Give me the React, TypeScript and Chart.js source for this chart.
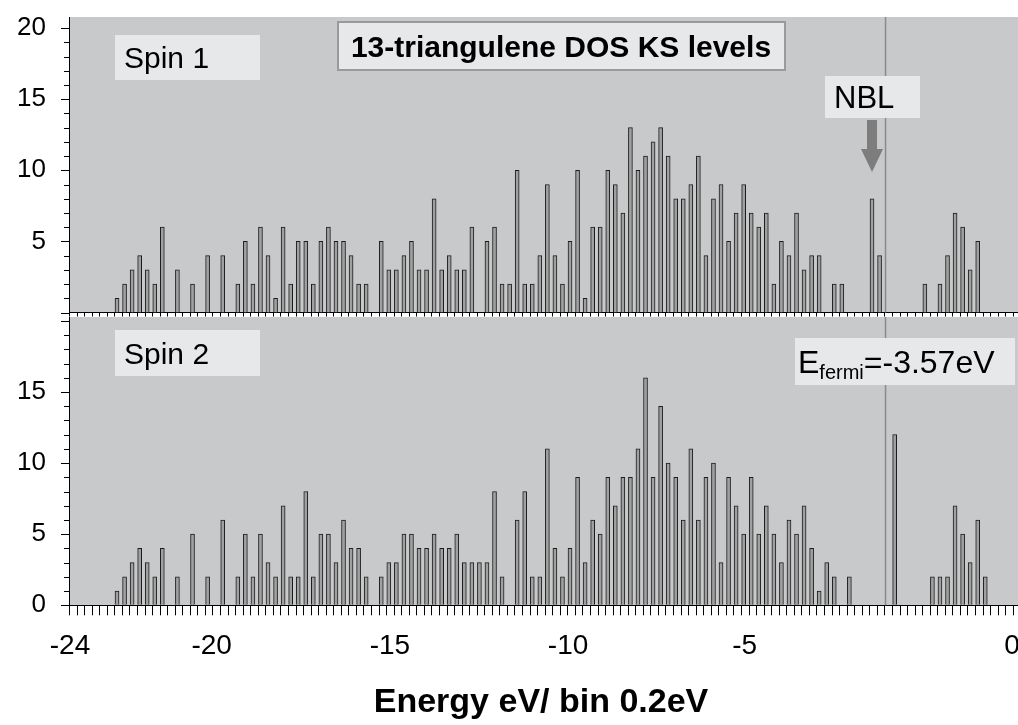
import React, { useEffect, useRef } from "react";
import { Chart, registerables } from "chart.js";

Chart.register(...registerables);

// ---- data (histogram of Kohn-Sham levels, bin index along the energy axis) ----
const spin1Counts = [
  0, 0, 0, 0, 0, 0, 1, 2, 3, 4,
  3, 2, 6, 0, 3, 0, 2, 0, 4, 0,
  4, 0, 2, 5, 2, 6, 4, 1, 6, 2,
  5, 5, 2, 5, 6, 5, 5, 4, 2, 2,
  0, 5, 3, 3, 4, 5, 3, 3, 8, 3,
  4, 3, 3, 6, 0, 5, 6, 2, 2, 10,
  2, 2, 4, 9, 4, 2, 5, 10, 1, 6,
  6, 10, 9, 7, 13, 10, 11, 12, 13, 11,
  8, 8, 9, 11, 4, 8, 9, 5, 7, 9,
  7, 6, 7, 2, 5, 4, 7, 3, 4, 4,
  0, 2, 2, 0, 0, 0, 8, 4, 0, 0,
  0, 0, 0, 2, 0, 2, 4, 7, 6, 3,
  5, 0,
];

const spin2Counts = [
  0, 0, 0, 0, 0, 0, 1, 2, 3, 4,
  3, 2, 4, 0, 2, 0, 5, 0, 2, 0,
  6, 0, 2, 5, 2, 5, 3, 2, 7, 2,
  2, 8, 2, 5, 5, 3, 6, 4, 4, 2,
  0, 2, 3, 3, 5, 5, 4, 4, 5, 4,
  4, 5, 3, 3, 3, 3, 8, 2, 0, 6,
  8, 2, 2, 11, 4, 2, 4, 9, 3, 6,
  5, 9, 7, 9, 9, 11, 16, 9, 14, 10,
  9, 6, 11, 6, 9, 10, 3, 9, 7, 5,
  9, 5, 7, 5, 3, 6, 5, 7, 4, 1,
  3, 2, 0, 2, 0, 0, 0, 0, 0, 12,
  0, 0, 0, 0, 2, 2, 2, 7, 5, 3,
  6, 2,
];

const xTickPositions = [0.13, 18.9, 42.5, 66.1, 89.5, 124.9];
const xTickLabels = ["-24", "-20", "-15", "-10", "-5", "0"];
const topYTicks = [5, 10, 15, 20];
const bottomYTicks = [0, 5, 10, 15];
const fermiBin = 108.15;
const nblBin = 106.36;
const fermiLabel = "=-3.57eV";

const chartTitle = "13-triangulene DOS KS levels";
const xAxisTitle = "Energy eV/ bin 0.2eV";

// ---- style / layout ----
const FONT = "'Liberation Sans', Arial, Helvetica, sans-serif";
const PANEL_BG = "#c8c9cb";
const BOX_BG = "#e7e8e9";
const BAR_FILL = "#a0a0a0";
const BAR_EDGE = "#1c1c1c";
const CANVAS_W = 1040;
const X_MAX = 128;
const BAR_SHIFT = 0.36;
const AXIS_LEFT = 69;
const PX_PER_BIN = 7.55;
const RIGHT_PAD = CANVAS_W - (AXIS_LEFT + X_MAX * PX_PER_BIN);

const TOP_H = 330;
const TOP_AREA_TOP = 17;
const TOP_AREA_BOTTOM = 312.5;
const BOT_H = 725;
const BOT_AREA_TOP = 317;
const BOT_AREA_BOTTOM = 605.3;
const PX_PER_COUNT = 14.22;
const Y_TICK_SIZE = 26;
const X_TICK_SIZE = 28;

Chart.defaults.font.family = FONT;
Chart.defaults.color = "#000";

const bgPlugin = {
  id: "panelBg",
  beforeDraw(chart: any) {
    const { ctx, chartArea: a } = chart;
    ctx.save();
    ctx.fillStyle = PANEL_BG;
    ctx.fillRect(a.left, a.top, a.right - a.left, a.bottom - a.top);
    ctx.restore();
  },
};

function drawTickMarks(chart: any, xLen: number) {
  const { ctx } = chart;
  const y = chart.scales.y;
  const x = chart.scales.x;
  ctx.save();
  ctx.strokeStyle = "#000";
  ctx.lineWidth = 1;
  for (let v = 0; v <= Math.floor(y.max); v++) {
    const py = Math.round(y.getPixelForValue(v)) + 0.5;
    const len = v % 5 === 0 ? 8 : 5;
    ctx.beginPath();
    ctx.moveTo(y.right - len, py);
    ctx.lineTo(y.right, py);
    ctx.stroke();
  }
  for (let i = 0; i <= X_MAX; i++) {
    const px = Math.round(x.getPixelForValue(i)) + 0.5;
    ctx.beginPath();
    ctx.moveTo(px, x.top);
    ctx.lineTo(px, x.top + xLen);
    ctx.stroke();
  }
  ctx.restore();
}

function box(ctx: any, x: number, y: number, w: number, h: number, border?: boolean) {
  ctx.fillStyle = BOX_BG;
  ctx.fillRect(x, y, w, h);
  if (border) {
    ctx.strokeStyle = "#9a9a9a";
    ctx.lineWidth = 2;
    ctx.strokeRect(x, y, w, h);
  }
}

function drawFermi(chart: any) {
  const { ctx, chartArea: a } = chart;
  const px = chart.scales.x.getPixelForValue(fermiBin);
  ctx.save();
  ctx.strokeStyle = "#8a8a8a";
  ctx.lineWidth = 1.5;
  ctx.beginPath();
  ctx.moveTo(px, a.top);
  ctx.lineTo(px, a.bottom);
  ctx.stroke();
  ctx.restore();
}

const topAnnotations = {
  id: "topAnn",
  afterDatasetsDraw(chart: any) {
    drawFermi(chart);
  },
  afterDraw(chart: any) {
    const { ctx } = chart;
    drawTickMarks(chart, 4);
    ctx.save();
    box(ctx, 338, 22, 447, 48, true);
    ctx.fillStyle = "#000";
    ctx.font = `bold 30px ${FONT}`;
    ctx.textBaseline = "alphabetic";
    ctx.textAlign = "center";
    ctx.fillText(chartTitle, 561, 57);
    box(ctx, 115, 35, 145, 45);
    ctx.font = `30px ${FONT}`;
    ctx.textAlign = "left";
    ctx.fillStyle = "#000";
    ctx.fillText("Spin 1", 124, 68);
    box(ctx, 825, 76, 95, 42);
    ctx.fillStyle = "#000";
    ctx.font = `31px ${FONT}`;
    ctx.fillText("NBL", 834, 108);
    const ax = chart.scales.x.getPixelForValue(nblBin);
    ctx.fillStyle = "#7d7d7d";
    ctx.fillRect(ax - 5, 120, 10, 30);
    ctx.beginPath();
    ctx.moveTo(ax - 11, 149);
    ctx.lineTo(ax + 11, 149);
    ctx.lineTo(ax, 172);
    ctx.closePath();
    ctx.fill();
    ctx.restore();
  },
};

const bottomAnnotations = {
  id: "botAnn",
  afterDatasetsDraw(chart: any) {
    drawFermi(chart);
  },
  afterDraw(chart: any) {
    const { ctx } = chart;
    drawTickMarks(chart, 10);
    ctx.save();
    box(ctx, 115, 330, 145, 46);
    ctx.fillStyle = "#000";
    ctx.font = `30px ${FONT}`;
    ctx.textAlign = "left";
    ctx.textBaseline = "alphabetic";
    ctx.fillText("Spin 2", 124, 364);
    box(ctx, 795, 338, 220, 47);
    ctx.fillStyle = "#000";
    ctx.font = `32px ${FONT}`;
    let x = 798;
    ctx.fillText("E", x, 373);
    x += ctx.measureText("E").width;
    ctx.font = `20px ${FONT}`;
    ctx.fillText("fermi", x, 379);
    x += ctx.measureText("fermi").width;
    ctx.font = `32px ${FONT}`;
    ctx.fillText(fermiLabel, x, 373);
    ctx.font = `bold 34px ${FONT}`;
    ctx.textAlign = "center";
    ctx.fillText(xAxisTitle, 541, 712);
    ctx.restore();
  },
};

function makeConfig(
  counts: number[],
  height: number,
  areaTop: number,
  areaBottom: number,
  yTicks: number[],
  showXLabels: boolean,
  plugin: any
): any {
  const yMax = (areaBottom - areaTop) / PX_PER_COUNT;
  return {
    type: "bar",
    data: {
      datasets: [
        {
          data: counts.map((c, i) => ({ x: i + BAR_SHIFT, y: c })),
          backgroundColor: BAR_FILL,
          borderColor: BAR_EDGE,
          borderWidth: 1,
          borderSkipped: "bottom",
          barThickness: 4,
        },
      ],
    },
    options: {
      animation: false,
      responsive: false,
      maintainAspectRatio: false,
      events: [],
      layout: {
        autoPadding: false,
        padding: { top: areaTop, left: 0, right: RIGHT_PAD, bottom: 0 },
      },
      plugins: { legend: { display: false }, tooltip: { enabled: false }, title: { display: false } },
      scales: {
        x: {
          type: "linear",
          min: 0,
          max: X_MAX,
          offset: false,
          afterBuildTicks: (scale: any) => {
            scale.ticks = showXLabels ? xTickPositions.map((p) => ({ value: p })) : [];
          },
          afterFit: (scale: any) => {
            scale.height = height - areaBottom;
          },
          grid: {
            display: true,
            drawOnChartArea: false,
            offset: false,
            drawTicks: true,
            tickLength: 24,
            tickColor: "rgba(0,0,0,0)",
          },
          border: { display: true, color: "#000", width: 1 },
          ticks: {
            display: showXLabels,
            autoSkip: false,
            maxRotation: 0,
            minRotation: 0,
            padding: 0,
            color: "#000",
            font: { size: X_TICK_SIZE, family: FONT },
            callback: (v: any) => {
              const k = xTickPositions.indexOf(v);
              return k >= 0 ? xTickLabels[k] : "";
            },
          },
        },
        y: {
          type: "linear",
          min: 0,
          max: yMax,
          afterBuildTicks: (scale: any) => {
            scale.ticks = yTicks.map((v) => ({ value: v }));
          },
          afterFit: (scale: any) => {
            scale.width = AXIS_LEFT;
          },
          grid: {
            display: true,
            drawOnChartArea: false,
            drawTicks: true,
            tickLength: 23,
            tickColor: "rgba(0,0,0,0)",
          },
          border: { display: true, color: "#000", width: 1 },
          ticks: {
            padding: 0,
            color: "#000",
            font: { size: Y_TICK_SIZE, family: FONT },
            callback: (v: any) => String(v),
          },
        },
      },
    },
    plugins: [bgPlugin, plugin],
  };
}

export default function App() {
  const topRef = useRef<HTMLCanvasElement>(null);
  const botRef = useRef<HTMLCanvasElement>(null);

  useEffect(() => {
    const bottom = new Chart(
      botRef.current as HTMLCanvasElement,
      makeConfig(spin2Counts, BOT_H, BOT_AREA_TOP, BOT_AREA_BOTTOM, bottomYTicks, true, bottomAnnotations)
    );
    const top = new Chart(
      topRef.current as HTMLCanvasElement,
      makeConfig(spin1Counts, TOP_H, TOP_AREA_TOP, TOP_AREA_BOTTOM, topYTicks, false, topAnnotations)
    );
    return () => {
      top.destroy();
      bottom.destroy();
    };
  }, []);

  return (
    <div
      style={{
        position: "absolute",
        left: 0,
        top: 0,
        width: 1018,
        height: 725,
        overflow: "hidden",
        background: "#fff",
      }}
    >
      <canvas
        ref={botRef}
        width={CANVAS_W}
        height={BOT_H}
        style={{ position: "absolute", left: 0, top: 0, width: CANVAS_W, height: BOT_H }}
      />
      <canvas
        ref={topRef}
        width={CANVAS_W}
        height={TOP_H}
        style={{ position: "absolute", left: 0, top: 0, width: CANVAS_W, height: TOP_H }}
      />
    </div>
  );
}
